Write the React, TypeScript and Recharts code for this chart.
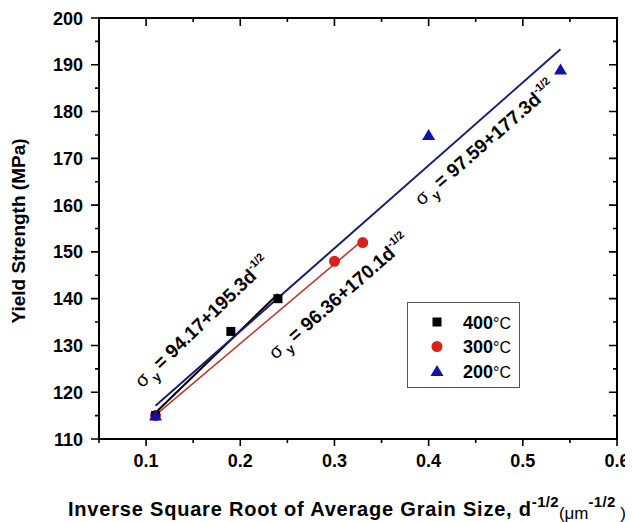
import React from 'react';
import { ComposedChart, XAxis, YAxis, Scatter, ReferenceDot, Customized } from 'recharts';

// ---- data ----
const X_MIN = 0.05;
const X_MAX = 0.6;
const Y_MIN = 110;
const Y_MAX = 200;
const xTicks = [0.05, 0.1, 0.15, 0.2, 0.25, 0.3, 0.35, 0.4, 0.45, 0.5, 0.55, 0.6];
const yTicks = [110, 115, 120, 125, 130, 135, 140, 145, 150, 155, 160, 165, 170, 175, 180, 185, 190, 195, 200];

const points400 = [
  { x: 0.11, y: 115 },
  { x: 0.19, y: 133 },
  { x: 0.24, y: 140 },
];
const points300 = [
  { x: 0.11, y: 115 },
  { x: 0.3, y: 148 },
  { x: 0.33, y: 152 },
];
const points200 = [
  { x: 0.11, y: 115 },
  { x: 0.4, y: 175 },
  { x: 0.54, y: 189 },
];

// fitted line end points
const fit400 = [
  { x: 0.11, y: 115.6 },
  { x: 0.24, y: 141.0 },
];
const fit300 = [
  { x: 0.11, y: 115.1 },
  { x: 0.33, y: 152.5 },
];
const fit200 = [
  { x: 0.11, y: 117.1 },
  { x: 0.54, y: 193.3 },
];

const equations = [
  { x: 0.16, y: 135.0, angle: -44, text: '94.17+195.3d' },
  { x: 0.305, y: 140.4, angle: -41, text: '96.36+170.1d' },
  { x: 0.46, y: 173.3, angle: -41, text: '97.59+177.3d' },
];

const legendLabels = ['400', '300', '200'];
const legendMarkers = ['square', 'circle', 'triangle'];

// ---- layout ----
const W = 625;
const H = 514;
const MARGIN = { top: 10, right: 16, left: 0, bottom: 0 };
const Y_AXIS_W = 91;
const X_AXIS_H = 83;
const PL = MARGIN.left + Y_AXIS_W;
const PR = W - MARGIN.right;
const PT = MARGIN.top;
const PB = H - MARGIN.bottom - X_AXIS_H;

// ---- styles ----
const FONT = '"Liberation Sans", Arial, Helvetica, sans-serif';
const BLACK = '#000000';
const RED_PT = '#d8231c';
const RED_LINE = '#b53a30';
const BLUE_PT = '#1212a8';
const BLUE_LINE = '#18206e';

const isMajor = (v: number, step: number) => Math.abs(v / step - Math.round(v / step)) < 1e-6;

const BottomLabel = (p: any) => {
  const { x, y, payload } = p;
  const v = payload.value;
  if (!isMajor(v, 0.1)) return <g />;
  return (
    <text x={x} y={y + 28} textAnchor="middle" fontFamily={FONT} fontWeight="bold" fontSize={18} fill={BLACK}>
      {Number(v.toFixed(1)).toString()}
    </text>
  );
};

const LeftLabel = (p: any) => {
  const { x, y, payload } = p;
  const v = payload.value;
  if (!isMajor(v, 10)) return <g />;
  return (
    <text x={x - 16} y={y + 6.5} textAnchor="end" fontFamily={FONT} fontWeight="bold" fontSize={18} fill={BLACK}>
      {v}
    </text>
  );
};

const Square = (p: any) => <rect x={p.cx - 4.5} y={p.cy - 4.5} width={9} height={9} fill={BLACK} />;
const Circle = (p: any) => <circle cx={p.cx} cy={p.cy} r={5.5} fill={RED_PT} />;
const Triangle = (p: any) => (
  <polygon points={`${p.cx},${p.cy - 6} ${p.cx - 6.5},${p.cy + 5} ${p.cx + 6.5},${p.cy + 5}`} fill={BLUE_PT} />
);
const NoShape = () => <g />;

const makeEq = (text: string, angle: number) => (p: any) => {
  const { cx, cy } = p;
  return (
    <text x={cx} y={cy + 6} textAnchor="middle" transform={`rotate(${angle}, ${cx}, ${cy})`} fontFamily={FONT} fill={BLACK}>
      <tspan fontSize={19}>σ</tspan>
      <tspan fontSize={13} fontWeight="bold" dx={3} dy={6}>y</tspan>
      <tspan fontSize={19} fontWeight="bold" dx={4} dy={-6}>= {text}</tspan>
      <tspan fontSize={11} fontWeight="bold" dy={-9}>-1/2</tspan>
    </text>
  );
};

// pixel mapping matching the chart's plot area (for the frame tick marks)
const sx = (v: number) => PL + ((v - X_MIN) / (X_MAX - X_MIN)) * (PR - PL);
const sy = (v: number) => PB - ((v - Y_MIN) / (Y_MAX - Y_MIN)) * (PB - PT);

const tickPath = () => {
  let d = '';
  xTicks.forEach((v) => {
    const x = sx(v);
    const major = isMajor(v, 0.1);
    d += `M${x},${PB} L${x},${PB + (major ? 7 : 4)} `;
    d += `M${x},${PT} L${x},${PT + (major ? 8 : 4)} `;
  });
  yTicks.forEach((v) => {
    const y = sy(v);
    const len = isMajor(v, 10) ? 8 : 4;
    d += `M${PL},${y} L${PL - len},${y} `;
    d += `M${PR},${y} L${PR - len},${y} `;
  });
  return d;
};

const Decor = () => (
  <g fontFamily={FONT} fill={BLACK}>
    <path d={`M${PL},${PT} L${PR},${PT} L${PR},${PB} L${PL},${PB} Z`} fill="none" stroke={BLACK} strokeWidth={2} />
    <path d={tickPath()} fill="none" stroke={BLACK} strokeWidth={1.6} />
    <text x={10} y={223} transform="rotate(-90, 10, 223)" textAnchor="middle" dominantBaseline="central" fontSize={19} fontWeight="bold">
      Yield Strength (MPa)
    </text>
    <text x={60} y={508} fontSize={20} fontWeight="bold" letterSpacing={0.8}>
      <tspan>Inverse Square Root of Average Grain Size, d</tspan>
      <tspan fontSize={15} letterSpacing={0.3} dy={-9}>-1/2</tspan>
      <tspan fontSize={17} fontWeight="normal" letterSpacing={0} dy={12}>(μm</tspan>
      <tspan fontSize={15} letterSpacing={0.3} dy={-12}>-1/2</tspan>
      <tspan fontSize={17} fontWeight="normal" letterSpacing={0} dy={12}> )</tspan>
    </text>
    {/* legend */}
    <rect x={399.5} y={294.5} width={112} height={85} fill="#ffffff" stroke="#555555" strokeWidth={1} />
    {legendLabels.map((lab, i) => {
      const cy = 314 + i * 24.5;
      const cx = 429;
      const m = legendMarkers[i];
      return (
        <g key={lab}>
          {m === 'square' && <rect x={cx - 4.5} y={cy - 4.5} width={9} height={9} fill={BLACK} />}
          {m === 'circle' && <circle cx={cx} cy={cy} r={5.5} fill={RED_PT} />}
          {m === 'triangle' && <polygon points={`${cx},${cy - 6} ${cx - 6.5},${cy + 5} ${cx + 6.5},${cy + 5}`} fill={BLUE_PT} />}
          <text x={455} y={cy + 6.5} fontSize={18}>
            <tspan fontWeight="bold">{lab}</tspan>
            <tspan fontSize={16}>°C</tspan>
          </text>
        </g>
      );
    })}
  </g>
);

export default function App() {
  return (
    <ComposedChart width={W} height={H} margin={MARGIN}>
      <XAxis dataKey="x" type="number" domain={[X_MIN, X_MAX]} ticks={xTicks} interval={0} height={X_AXIS_H} tickSize={0} tickMargin={0} tickLine={false} axisLine={false} tick={BottomLabel} allowDataOverflow />
      <YAxis dataKey="y" type="number" domain={[Y_MIN, Y_MAX]} ticks={yTicks} interval={0} width={Y_AXIS_W} tickSize={0} tickMargin={0} tickLine={false} axisLine={false} tick={LeftLabel} allowDataOverflow />

      <Scatter data={fit300} line={{ stroke: RED_LINE, strokeWidth: 1.6 }} shape={NoShape} isAnimationActive={false} />
      <Scatter data={fit400} line={{ stroke: BLACK, strokeWidth: 2 }} shape={NoShape} isAnimationActive={false} />
      <Scatter data={fit200} line={{ stroke: BLUE_LINE, strokeWidth: 2 }} shape={NoShape} isAnimationActive={false} />

      <Scatter data={points300} shape={Circle} isAnimationActive={false} />
      <Scatter data={points400} shape={Square} isAnimationActive={false} />
      <Scatter data={points200} shape={Triangle} isAnimationActive={false} />

      {equations.map((e) => (
        <ReferenceDot key={e.text} x={e.x} y={e.y} r={0} ifOverflow="visible" shape={makeEq(e.text, e.angle)} />
      ))}

      <Customized component={Decor} />
    </ComposedChart>
  );
}
